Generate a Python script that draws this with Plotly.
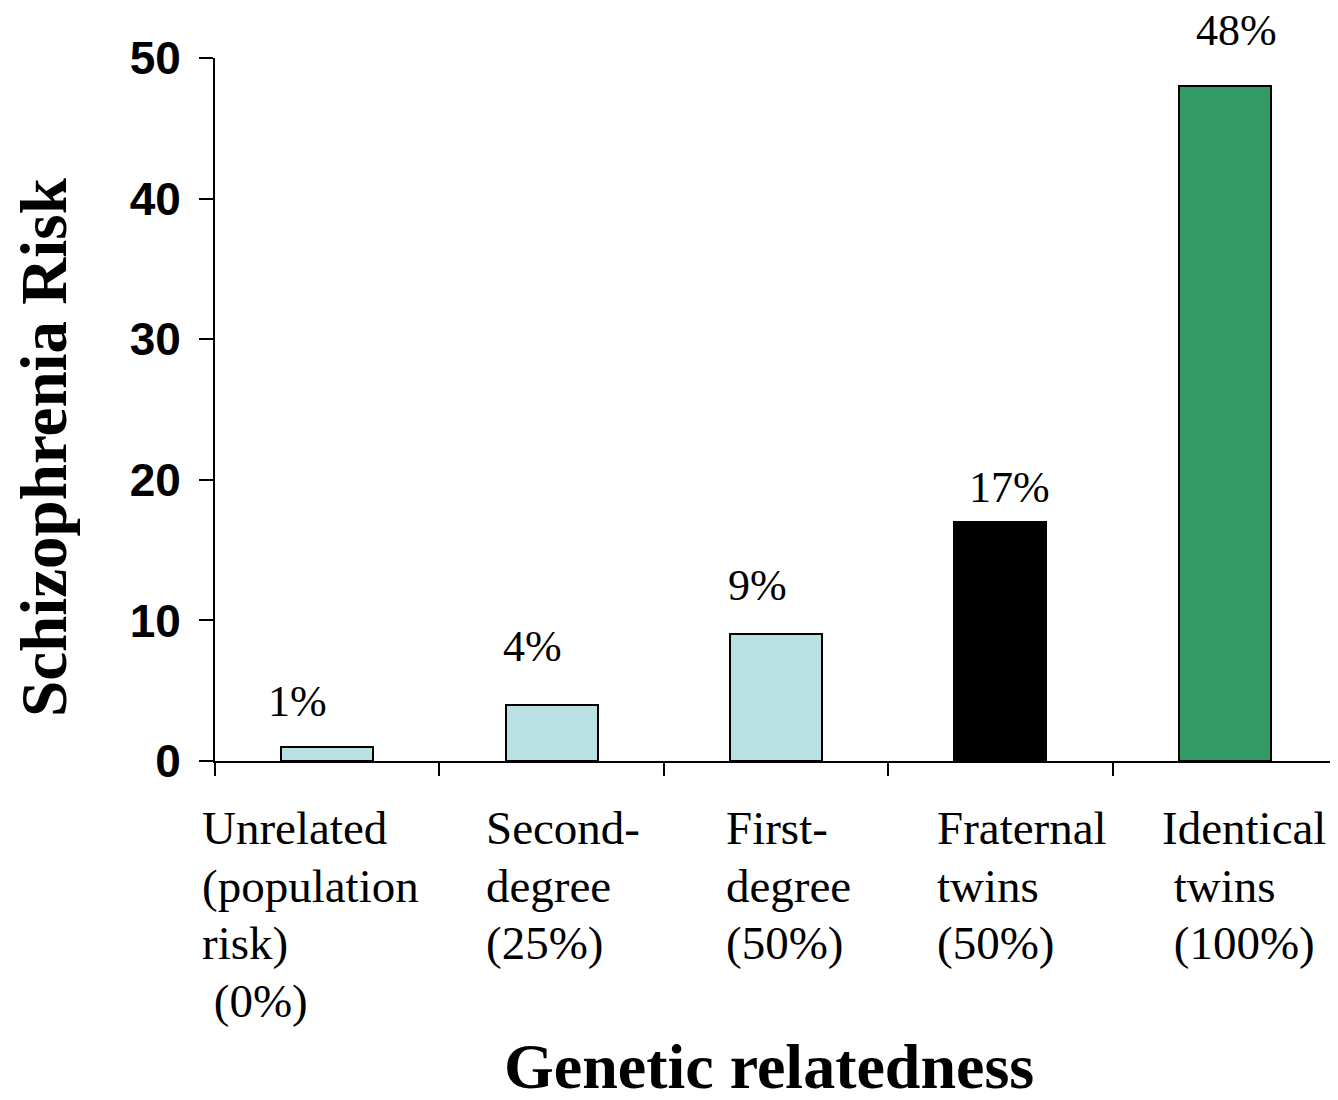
import plotly.graph_objects as go

# ---- data ----
categories = ["Unrelated", "Second-degree", "First-degree", "Fraternal twins", "Identical twins"]
cat_label_lines = [
    ["Unrelated", "(population", "risk)", "\u00a0(0%)"],
    ["Second-", "degree", "(25%)"],
    ["First-", "degree", "(50%)"],
    ["Fraternal", "twins", "(50%)"],
    ["Identical", "\u00a0twins", "\u00a0(100%)"],
]
risk = [1, 4, 9, 17, 48]
risk_labels = ["1%", "4%", "9%", "17%", "48%"]
y_ticks = [0, 10, 20, 30, 40, 50]

# ---- styles ----
bar_colors = ["#B9E0E2", "#B9E0E2", "#B9E0E2", "#000000", "#349A66"]
pct_dx = [-30, -19, -19, 9, 12]
pct_dy = [19, 32, 22, 8, 29]
cat_dx = [-15, 45, 60, 47, 47]
LINE_STEP = 57.5

SERIF = "Liberation Serif, Times New Roman, serif"
SANS = "Liberation Sans, Arial, sans-serif"

xpos = list(range(len(categories)))

fig = go.Figure()
fig.add_trace(go.Bar(
    x=xpos, y=risk, width=0.41,
    marker=dict(color=bar_colors, line=dict(color="black", width=2)),
    hoverinfo="skip", showlegend=False,
))

annotations = []
for i, (v, t) in enumerate(zip(risk, risk_labels)):
    annotations.append(dict(
        x=xpos[i], y=v, xref="x", yref="y", text=t, showarrow=False,
        xanchor="center", yanchor="bottom", xshift=pct_dx[i], yshift=pct_dy[i],
        font=dict(family=SERIF, size=44, color="black"),
    ))
for i, lines in enumerate(cat_label_lines):
    for k, line in enumerate(lines):
        annotations.append(dict(
            x=xpos[i] - 0.5, y=0, xref="x", yref="paper", text=line, showarrow=False,
            xanchor="left", yanchor="top", align="left",
            xshift=cat_dx[i], yshift=-39 - LINE_STEP * k,
            font=dict(family=SERIF, size=47, color="black"),
        ))
annotations.append(dict(
    x=0.4938, y=0, xref="paper", yref="paper", text="<b>Genetic relatedness</b>",
    showarrow=False, xanchor="center", yanchor="middle", yshift=-305,
    font=dict(family=SERIF, size=64, color="black"),
))
annotations.append(dict(
    x=-0.1524, y=0.4467, xref="paper", yref="paper", text="<b>Schizophrenia Risk</b>",
    showarrow=False, xanchor="center", yanchor="middle", textangle=-90,
    font=dict(family=SERIF, size=65, color="black"),
))

# page body has an 8px margin, so the figure is drawn 8px smaller/offset
fig.update_layout(
    width=1330, height=1092,
    margin=dict(l=207, r=1, t=50, b=339),
    paper_bgcolor="white", plot_bgcolor="white",
    annotations=annotations,
    bargap=0,
)
fig.update_xaxes(
    range=[-0.5, 4.5], tickmode="array",
    tickvals=[i - 0.5 for i in range(len(categories) + 1)],
    ticktext=[""] * (len(categories) + 1),
    ticks="outside", ticklen=13, tickwidth=2, tickcolor="black",
    showline=True, linecolor="black", linewidth=2,
    showgrid=False, zeroline=False, fixedrange=True,
)
fig.update_yaxes(
    range=[0, 50], tickmode="array", tickvals=y_ticks,
    ticktext=[f"<b>{v}</b>" for v in y_ticks],
    ticks="outside", ticklen=14, tickwidth=2, tickcolor="black",
    ticklabelstandoff=9,
    showline=True, linecolor="black", linewidth=2,
    showgrid=False, zeroline=False, fixedrange=True,
    tickfont=dict(family=SANS, size=46, color="black"),
)

fig.write_html("out.html")
